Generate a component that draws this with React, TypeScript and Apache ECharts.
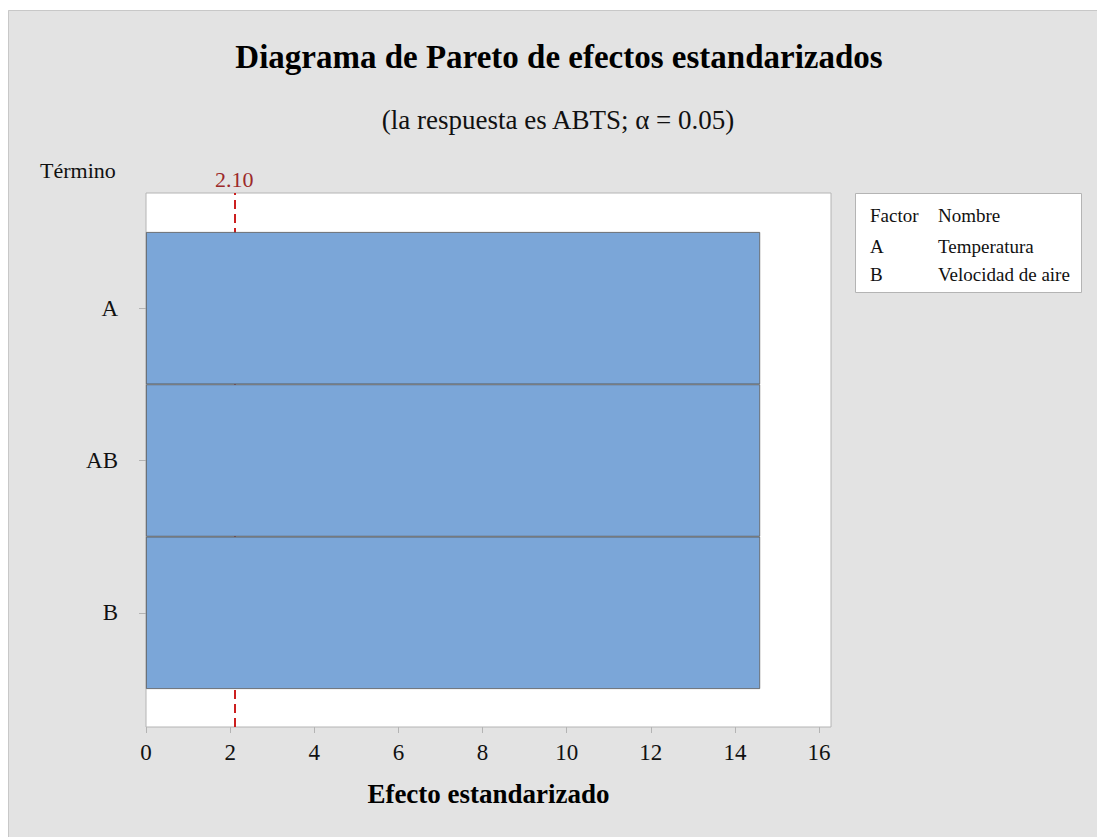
import React, { useEffect, useRef } from "react";
import * as echarts from "echarts";

const terms = ["A", "AB", "B"];
const effects = [14.6, 14.6, 14.6];
const criticalValue = 2.1;
const xMin = 0;
const xMax = 16.285;
const xTickValues = [0, 2, 4, 6, 8, 10, 12, 14, 16];
const legendHeader = ["Factor", "Nombre"];
const factorCodes = ["A", "B"];
const factorNames = ["Temperatura", "Velocidad de aire"];
const titleText = "Diagrama de Pareto de efectos estandarizados";
const subtitleText = "(la respuesta es ABTS; α = 0.05)";
const yAxisTitle = "Término";
const xAxisTitle = "Efecto estandarizado";

export default function App() {
  const ref = useRef<HTMLDivElement>(null);
  useEffect(() => {
    const chart = echarts.init(ref.current!, null, { renderer: "svg" });
    const font = "'Liberation Serif', 'Times New Roman', serif";
    const txt = "#111111";
    const frame = "#b4b4b4";
    const legendTexts: any[] = [];
    const rowY = [246, 274];
    const lf = `19px ${font}`;
    legendTexts.push({ type: "text", x: 870, y: 215, style: { text: legendHeader[0], font: lf, fill: txt, textVerticalAlign: "middle" } });
    legendTexts.push({ type: "text", x: 938, y: 215, style: { text: legendHeader[1], font: lf, fill: txt, textVerticalAlign: "middle" } });
    factorCodes.forEach((c, i) => {
      legendTexts.push({ type: "text", x: 870, y: rowY[i], style: { text: c, font: lf, fill: txt, textVerticalAlign: "middle" } });
      legendTexts.push({ type: "text", x: 938, y: rowY[i], style: { text: factorNames[i], font: lf, fill: txt, textVerticalAlign: "middle" } });
    });
    chart.setOption({
      animation: false,
      backgroundColor: "#e3e3e3",
      graphic: [
        { type: "rect", shape: { x: 0, y: 0, width: 1097, height: 10 }, style: { fill: "#ffffff" } },
        { type: "rect", shape: { x: 0, y: 0, width: 8, height: 837 }, style: { fill: "#ffffff" } },
        { type: "line", shape: { x1: 8.5, y1: 10.5, x2: 1097, y2: 10.5 }, style: { stroke: "#c8c8c8", lineWidth: 1 } },
        { type: "line", shape: { x1: 8.5, y1: 10.5, x2: 8.5, y2: 837 }, style: { stroke: "#c8c8c8", lineWidth: 1 } },
        { type: "text", x: 559, y: 57, style: { text: titleText, font: `bold 33px ${font}`, fill: "#000", textAlign: "center", textVerticalAlign: "middle" } },
        { type: "text", x: 558, y: 120, style: { text: subtitleText, font: `27px ${font}`, fill: txt, textAlign: "center", textVerticalAlign: "middle" } },
        { type: "text", x: 40, y: 170, style: { text: yAxisTitle, font: `22px ${font}`, fill: txt, textVerticalAlign: "middle" } },
        { type: "rect", shape: { x: 855.5, y: 193.5, width: 226, height: 99 }, style: { fill: "#ffffff", stroke: frame, lineWidth: 1 } },
        ...legendTexts,
      ],
      grid: [
        { left: 146, top: 193, width: 685, height: 534, show: true, backgroundColor: "#ffffff", borderColor: frame, borderWidth: 1 },
        { left: 146, top: 232, width: 685, height: 457 },
      ],
      xAxis: [
        {
          gridIndex: 0,
          type: "value",
          min: xMin,
          max: xMax,
          axisLine: { show: false },
          splitLine: { show: false },
          axisTick: { show: true, length: 6, lineStyle: { color: frame }, customValues: xTickValues },
          axisLabel: { fontSize: 23, color: txt, fontFamily: font, margin: 14, customValues: xTickValues },
          name: xAxisTitle,
          nameLocation: "middle",
          nameGap: 53,
          nameTextStyle: { fontSize: 27, fontWeight: "bold", color: "#000", fontFamily: font },
        },
        { gridIndex: 1, type: "value", min: xMin, max: xMax, show: false },
      ],
      yAxis: [
        { gridIndex: 0, type: "value", min: 0, max: 1, show: false },
        {
          gridIndex: 1,
          type: "category",
          data: terms,
          inverse: true,
          axisLine: { show: false },
          axisTick: { show: true, alignWithLabel: true, length: 7, lineStyle: { color: frame } },
          axisLabel: { fontSize: 23, color: txt, fontFamily: font, margin: 28 },
        },
      ],
      series: [
        {
          type: "line",
          xAxisIndex: 0,
          yAxisIndex: 0,
          data: [],
          z: 1,
          markLine: {
            symbol: "none",
            silent: true,
            lineStyle: { color: "#cc1f1f", type: [9, 5], width: 2 },
            label: { show: true, position: "end", formatter: criticalValue.toFixed(2), color: "#9c2a2a", fontSize: 22, fontFamily: font, distance: 3 },
            data: [{ xAxis: criticalValue }],
          },
        },
        {
          type: "bar",
          xAxisIndex: 1,
          yAxisIndex: 1,
          data: effects,
          barWidth: "100%",
          z: 5,
          itemStyle: { color: "#7ba6d8", borderColor: "#555555", borderWidth: 0.8 },
        },
      ],
    });
    return () => chart.dispose();
  }, []);
  return <div ref={ref} style={{ position: "fixed", left: 0, top: 0, width: 1097, height: 837 }} />;
}
